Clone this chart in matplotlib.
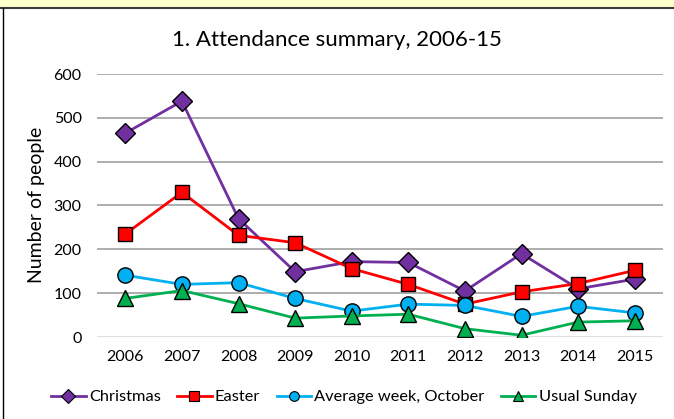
import matplotlib
matplotlib.use("Agg")
import matplotlib.pyplot as plt
from matplotlib.patches import Rectangle
from matplotlib.lines import Line2D

years = [2006, 2007, 2008, 2009, 2010, 2011, 2012, 2013, 2014, 2015]
christmas = [465, 538, 270, 149, 172, 170, 105, 190, 110, 132]
easter = [235, 330, 232, 215, 156, 120, 75, 103, 122, 152]
avg_week = [141, 120, 124, 88, 59, 75, 72, 47, 70, 55]
usual_sunday = [88, 106, 76, 43, 48, 52, 19, 4, 34, 37]
y_ticks = [0, 100, 200, 300, 400, 500, 600]

plt.rcParams['font.family'] = ['Lato', 'DejaVu Sans']

fig = plt.figure(figsize=(6.74, 4.19), dpi=100)
W, H = 674, 419

# top yellow strip and borders
fig.patches.append(Rectangle((0, 1 - 7.5 / H), 1, 7.5 / H, transform=fig.transFigure,
                             facecolor='#FFFFCC', edgecolor='none', zorder=0))
fig.lines.append(Line2D([0, 1], [1 - 8 / H, 1 - 8 / H], transform=fig.transFigure,
                        color='#3a3a3a', lw=1.5))
fig.lines.append(Line2D([2.5 / W, 2.5 / W], [0, 1 - 8 / H], transform=fig.transFigure,
                        color='#000000', lw=1.0))

ax = fig.add_axes([97 / W, 1 - 337 / H, (663 - 97) / W, (337 - 74) / H])
ax.set_xlim(2005.5, 2015.5)
ax.set_ylim(0, 600)
ax.set_yticks(y_ticks)
ax.set_xticks(years)
ax.set_xticklabels([str(y) for y in years])
for s in ax.spines.values():
    s.set_visible(False)
ax.tick_params(length=0, labelsize=11.5, colors='black')
ax.tick_params(axis='y', pad=11)
ax.tick_params(axis='x', pad=9)
for v in y_ticks[1:]:
    ax.axhline(v, color='#a0a0a0', lw=1.2, zorder=0)
ax.axhline(0, color='#d9d9d9', lw=1.2, zorder=0)

series = [
    ('Christmas', christmas, '#7030A0', 'D', 10),
    ('Easter', easter, '#FF0000', 's', 10),
    ('Average week, October', avg_week, '#00B0F0', 'o', 11),
    ('Usual Sunday', usual_sunday, '#00B050', '^', 12),
]
handles = []
for name, vals, col, mk, ms in series:
    ax.plot(years, vals, color=col, lw=2, marker=mk, markersize=ms,
            markerfacecolor=col, markeredgecolor='black', markeredgewidth=1.0)
    handles.append(Line2D([0], [0], color=col, lw=2, marker=mk, markersize=7,
                          markerfacecolor=col, markeredgecolor='black',
                          markeredgewidth=0.8, label=name))

fig.text(37 / W, 1 - 205 / H, 'Number of people', rotation=90, ha='center', va='center',
         fontsize=14)
fig.text(337 / W, 1 - 40 / H, '1. Attendance summary, 2006-15', ha='center', va='center',
         fontsize=16)

fig.legend(handles=handles, loc='center', bbox_to_anchor=(344 / W, 1 - 397 / H),
           ncol=4, frameon=False, fontsize=11.8, handlelength=2.1, handletextpad=0.2,
           columnspacing=1.0)

fig.savefig('out.png', dpi=100, facecolor='white')
